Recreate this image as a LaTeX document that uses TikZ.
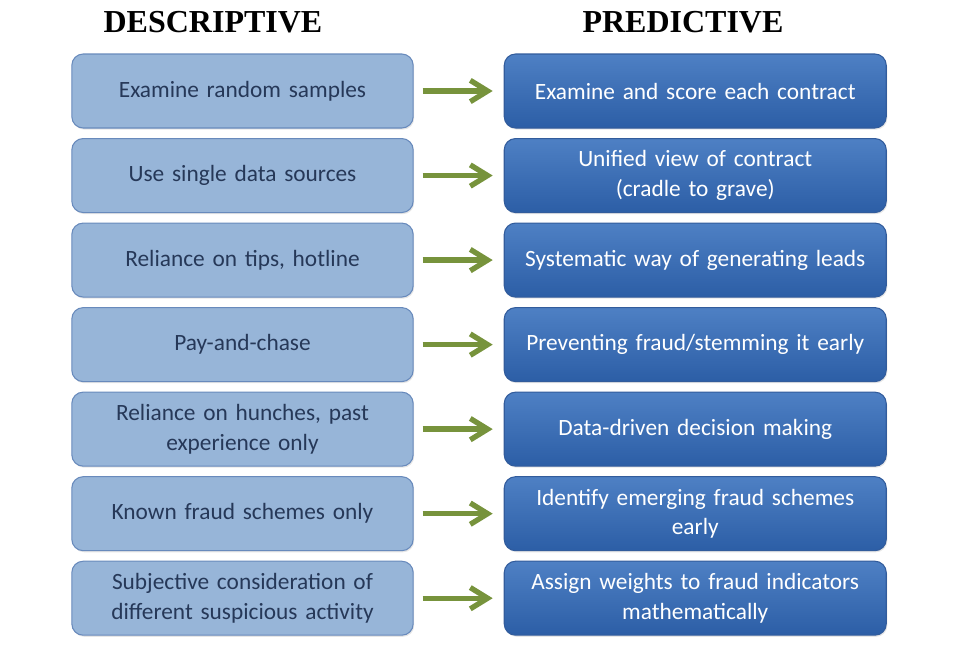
\documentclass[tikz,border=0pt]{standalone}
\usepackage{fontspec}
\setmainfont{Liberation Serif}
\newfontfamily\boxfont[WordSpace=0.8]{Carlito}
\usepackage{tikz}
\usetikzlibrary{positioning, shadows, arrows.meta}
\newcommand{\tb}{\textbf}
\definecolor{descfill}{RGB}{151,181,216}
\definecolor{descline}{RGB}{104,138,188}
\definecolor{desctext}{RGB}{38,56,88}
\definecolor{predtop}{RGB}{78,128,196}
\definecolor{predbot}{RGB}{44,94,166}
\definecolor{predline}{RGB}{50,92,156}
\definecolor{arrowgreen}{RGB}{119,147,60}

\begin{document}
\begin{tikzpicture}[x=0.75pt, y=-0.75pt,
  basic/.style = {draw, thick, rounded corners=8.5pt, minimum height=55.5pt, align=center,
                  font=\boxfont\fontsize{17.5}{22}\selectfont,
                  drop shadow={opacity=0.2, shadow xshift=0.8pt, shadow yshift=-1.2pt}},
  desc/.style  = {basic, fill=descfill, draw=descline, text=desctext, minimum width=256pt, text width=240pt},
  pred/.style  = {basic, top color=predtop, bottom color=predbot, draw=predline, text=white,
                  minimum width=286.5pt, text width=272pt},
  head/.style  = {font=\fontsize{24}{28}\selectfont},
  link/.style  = {-{Straight Barb[length=13pt, width=16pt, line join=miter]}, line width=4pt, draw=arrowgreen}]

\useasboundingbox (0,0) rectangle (959,654);

% column headings
\node[head] (hdesc) at (213,22) {\tb{DESCRIPTIVE}};
\node[head] (hpred) at (683,22) {\tb{PREDICTIVE}};

% descriptive column, stacked one below the other
\begin{scope}[node distance=7.1pt]
\node[desc] (d1) at (242.5,91) {Examine random samples};
\node[desc, below=of d1] (d2) {Use single data sources};
\node[desc, below=of d2] (d3) {Reliance on tips, hotline};
\node[desc, below=of d3] (d4) {Pay-and-chase};
\node[desc, below=of d4] (d5) {Reliance on hunches, past \\ experience only};
\node[desc, below=of d5] (d6) {Known fraud schemes only};
\node[desc, below=of d6] (d7) {Subjective consideration of \\ different suspicious activity};
\end{scope}

% predictive column, each box right of its partner
\begin{scope}[node distance=67.5pt]
\node[pred, right=of d1] (p1) {Examine and score each contract};
\node[pred, right=of d2] (p2) {Unified view of contract \\ (cradle to grave)};
\node[pred, right=of d3] (p3) {Systematic way of generating leads};
\node[pred, right=of d4] (p4) {Preventing fraud/stemming it early};
\node[pred, right=of d5] (p5) {Data-driven decision making};
\node[pred, right=of d6] (p6) {Identify emerging fraud schemes \\ early};
\node[pred, right=of d7] (p7) {Assign weights to fraud indicators \\ mathematically};
\end{scope}

%------------------------------- arrows from descriptive to predictive -------------------------------
\foreach \value in {1,...,7}
  \draw[link] ([xshift=6.75pt]d\value.east) -- ([xshift=-8.25pt]p\value.west);

\end{tikzpicture}
\end{document}
